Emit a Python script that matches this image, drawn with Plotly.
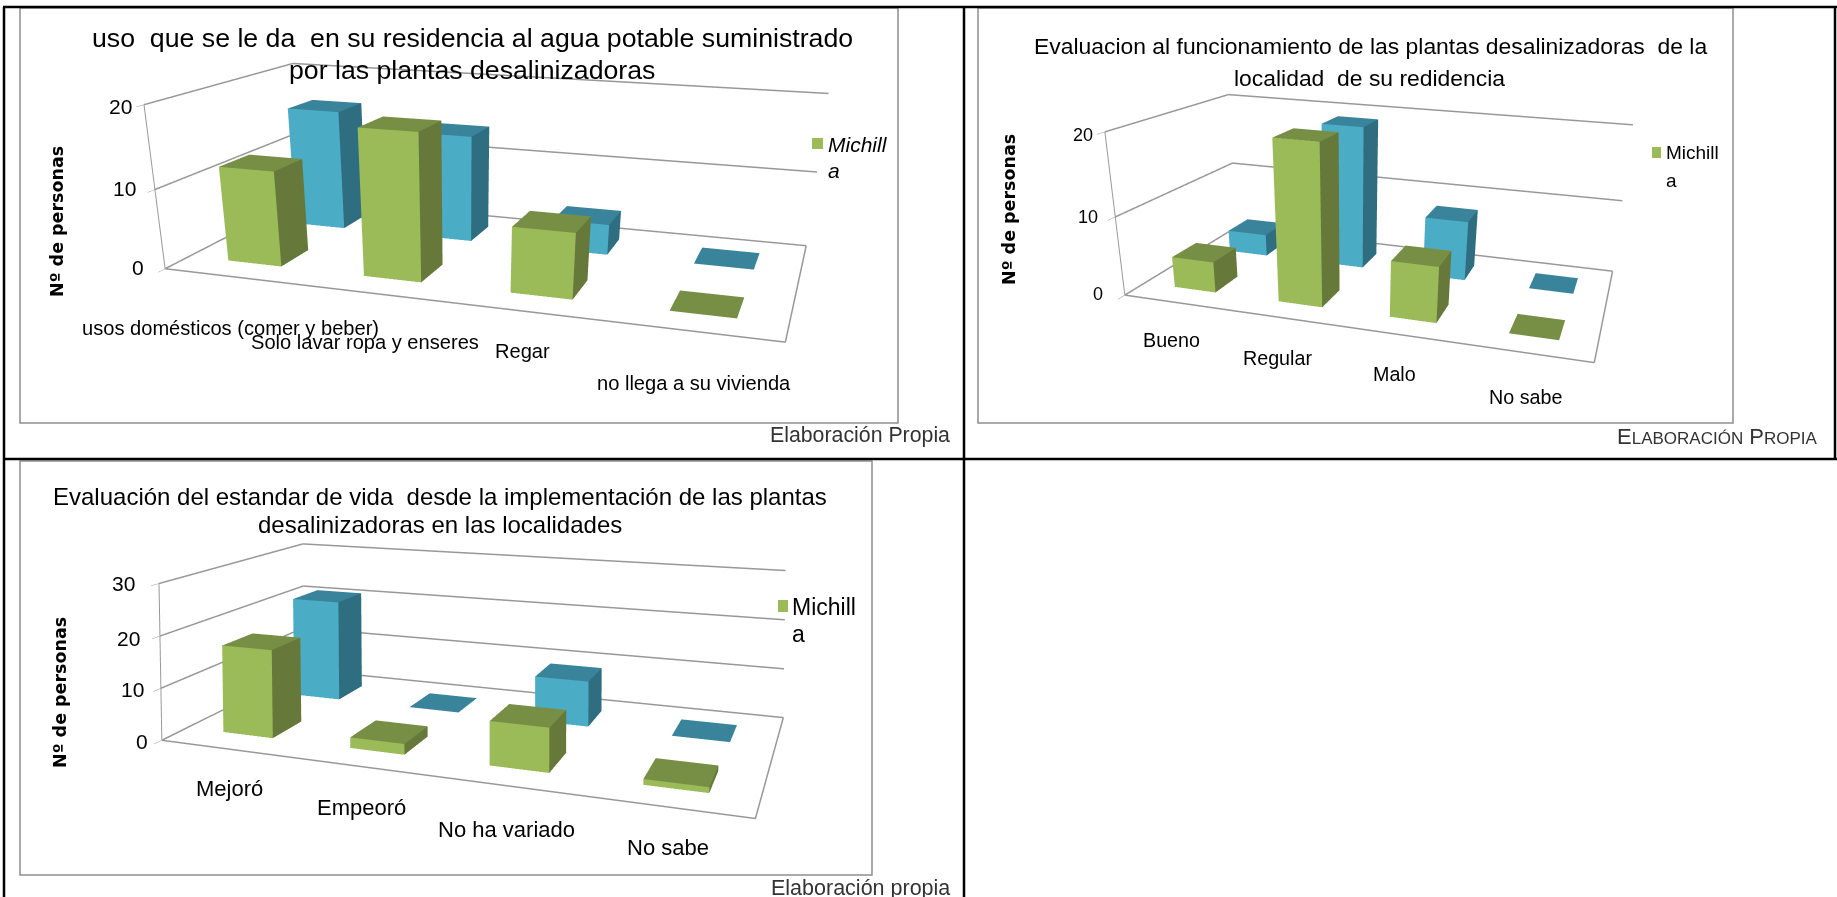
import plotly.graph_objects as go

PAGE_W, PAGE_H = 1837, 897

# Survey counts, one list per chart; the first series is drawn in front.
uso_categorias = ["usos domésticos (comer y beber)", "Solo lavar ropa y enseres", "Regar", "no llega a su vivienda"]
uso_michilla = [12, 18, 8, 0]
uso_segunda = [16, 14, 4, 0]
uso_ticks = [0, 10, 20]

func_categorias = ["Bueno", "Regular", "Malo", "No sabe"]
func_michilla = [4, 20, 7, 0]
func_segunda = [3, 19, 8, 0]
func_ticks = [0, 10, 20]

vida_categorias = ["Mejoró", "Empeoró", "No ha variado", "No sabe"]
vida_michilla = [17, 2, 8, 1]
vida_segunda = [21, 0, 9, 0]
vida_ticks = [0, 10, 20, 30]

GREEN = ("#9BBB59", "#66793B", "#778F45")
BLUE = ("#4BACC6", "#2F6E81", "#39849B")
GRID = "#989898"
BAR_W = 0.4
SANS = "Liberation Sans"


def px(x):
    return x / PAGE_W


def py(y):
    return 1 - y / PAGE_H


def bar_mesh(values, series_index, palette, scene):
    """One Mesh3d holding a box per value, with flat-coloured faces."""
    xs, ys, zs, ii, jj, kk, colors = [], [], [], [], [], [], []
    front, side, top = palette
    for cat, value in enumerate(values):
        x0, x1 = cat + (1 - BAR_W) / 2, cat + (1 + BAR_W) / 2
        y0, y1 = series_index + (1 - BAR_W) / 2, series_index + (1 + BAR_W) / 2
        n = len(xs)
        xs += [x0, x1, x1, x0, x0, x1, x1, x0]
        ys += [y0, y0, y1, y1, y0, y0, y1, y1]
        zs += [0, 0, 0, 0, value, value, value, value]
        faces = [
            ((0, 1, 5), front), ((0, 5, 4), front),
            ((1, 2, 6), side), ((1, 6, 5), side),
            ((4, 5, 6), top), ((4, 6, 7), top),
        ]
        for (a, b, c), col in faces:
            ii.append(n + a)
            jj.append(n + b)
            kk.append(n + c)
            colors.append(col)
    return go.Mesh3d(
        x=xs, y=ys, z=zs, i=ii, j=jj, k=kk, facecolor=colors, flatshading=True,
        lighting=dict(ambient=1, diffuse=0, specular=0, fresnel=0, roughness=1),
        hoverinfo="skip", showscale=False, scene=scene,
    )


def wire(xs, ys, zs, scene):
    return go.Scatter3d(
        x=xs, y=ys, z=zs, mode="lines", line=dict(color=GRID, width=3),
        hoverinfo="skip", showlegend=False, scene=scene,
    )


def add_frame_lines(ticks, scene):
    """Gridlines on the side and back walls, then the floor's front and right borders."""
    for t in ticks:
        fig.add_trace(wire([0, 0, 4], [0, 2, 2], [t, t, t], scene))
    fig.add_trace(wire([0, 4, 4], [0, 0, 2], [0, 0, 0], scene))


def scene_layout(dom_x, dom_y, eye, center, up_x, aspect_y, aspect_z, ticks):
    hidden = dict(showgrid=False, showticklabels=False, showline=False, ticks="", title="",
                  zeroline=False, showspikes=False, showbackground=False)
    return dict(
        domain=dict(x=dom_x, y=dom_y), bgcolor="rgba(0,0,0,0)", dragmode="orbit",
        aspectmode="manual", aspectratio=dict(x=2, y=aspect_y, z=aspect_z),
        camera=dict(
            eye=dict(x=eye[0], y=eye[1], z=eye[2]),
            center=dict(x=center[0], y=center[1], z=center[2]),
            up=dict(x=up_x, y=0, z=1),
        ),
        xaxis=dict(range=[0, 4], **hidden),
        yaxis=dict(range=[0, 2], **hidden),
        zaxis=dict(
            range=[ticks[0], ticks[-1]], tickvals=ticks, showticklabels=False, ticks="outside",
            ticklen=6, tickcolor=GRID, showgrid=False, showline=True,
            linecolor=GRID, linewidth=2, title="", zeroline=False, showspikes=False, showbackground=False,
        ),
    )


fig = go.Figure()

charts = [
    ("scene", uso_michilla, uso_segunda, uso_ticks),
    ("scene2", func_michilla, func_segunda, func_ticks),
    ("scene3", vida_michilla, vida_segunda, vida_ticks),
]
for scene, front_series, back_series, ticks in charts:
    fig.add_trace(bar_mesh(back_series, 1, BLUE, scene))
    fig.add_trace(bar_mesh(front_series, 0, GREEN, scene))
    add_frame_lines(ticks, scene)

fig.update_layout(
    width=PAGE_W, height=PAGE_H, margin=dict(l=0, r=0, t=0, b=0),
    paper_bgcolor="white", showlegend=False,
    scene=scene_layout([0, 960 / PAGE_W], [0, 1], (1.070, -3.468, 0.842), (0.223, -0.870, -0.549),
                       -0.008, 1.001, 0.525, uso_ticks),
    scene2=scene_layout([963 / PAGE_W, 1], [1 - 700 / PAGE_H, 1], (1.075, -3.474, 1.023), (0.252, -0.564, -0.400),
                        -0.026, 1.067, 0.696, func_ticks),
    scene3=scene_layout([0, 960 / PAGE_W], [0, 1], (1.295, -3.580, 0.946), (-0.273, 0.725, 0.685),
                        0.001, 0.995, 0.547, vida_ticks),
)

shapes = []


def rule(x0, y0, x1, y1, color="black", width=2.5):
    shapes.append(dict(type="line", xref="paper", yref="paper", x0=px(x0), y0=py(y0), x1=px(x1), y1=py(y1),
                       line=dict(color=color, width=width), layer="below"))


def frame(x0, y0, x1, y1):
    shapes.append(dict(type="rect", xref="paper", yref="paper", x0=px(x0), y0=py(y0), x1=px(x1), y1=py(y1),
                       line=dict(color="#8f8f8f", width=1.5), fillcolor="white", layer="below"))


frame(20, 8, 898, 423)
frame(978, 8, 1733, 423)
frame(20, 461, 872, 875)
rule(3, 7, 1837, 7)
rule(3, 459, 1837, 459)
rule(4, 7, 4, 897)
rule(964, 7, 964, 897)
rule(1835, 7, 1835, 459)


def label(x, y, text, size, anchor="left", family=SANS, color="black", angle=0, italic=False):
    fig.add_annotation(
        x=px(x), y=py(y), xref="paper", yref="paper", text=f"<i>{text}</i>" if italic else text, showarrow=False,
        xanchor=anchor, yanchor="middle", textangle=angle, font=dict(size=size, family=family, color=color),
    )


def legend_key(x0, y0, x1, y1):
    shapes.append(dict(type="rect", xref="paper", yref="paper", x0=px(x0), y0=py(y0), x1=px(x1), y1=py(y1),
                       line=dict(width=0), fillcolor=GREEN[0], layer="above"))


# Chart 1
label(473, 38, "uso \u00a0que se le da \u00a0en su residencia al agua potable suministrado", 26.7, "center")
label(472, 70, "por las plantas desalinizadoras", 26.7, "center")
for tick, (x, y) in zip(uso_ticks, [(146, 267), (138, 188), (134, 107)]):
    label(x, y, str(tick), 21, "right")
label(57, 222, "<b>Nº de personas</b>", 17.5, "center", "DejaVu Sans", angle=-90)
label(80, 328, uso_categorias[0], 20.1)
label(249, 342, uso_categorias[1], 20.1)
label(493, 351, uso_categorias[2], 20.1)
label(595, 383, uso_categorias[3], 20.1)
legend_key(812, 138, 823, 149)
label(826, 144, "Michill", 21, italic=True)
label(826, 170, "a", 21, italic=True)
label(952, 435, "Elaboración Propia", 21.3, "right", color="#333333")

# Chart 2
label(1370, 46, "Evaluacion al funcionamiento de las plantas desalinizadoras \u00a0de la", 22.9, "center")
label(1369, 78, "localidad \u00a0de su redidencia", 22.9, "center")
for tick, (x, y) in zip(func_ticks, [(1105, 294), (1100, 217), (1095, 135)]):
    label(x, y, str(tick), 18, "right")
label(1009, 210, "<b>Nº de personas</b>", 17.5, "center", "DejaVu Sans", angle=-90)
label(1141, 340, func_categorias[0], 19.7)
label(1241, 358, func_categorias[1], 19.7)
label(1371, 374, func_categorias[2], 19.7)
label(1487, 397, func_categorias[3], 19.7)
legend_key(1652, 147, 1661, 158)
label(1664, 152, "Michill", 19)
label(1664, 181, "a", 19)
label(1820, 436, 'E<span style="font-size:17px">LABORACIÓN</span> P<span style="font-size:17px">ROPIA</span>',
      22, "right", color="#333333")

# Chart 3
label(440, 496, "Evaluación del estandar de vida \u00a0desde la implementación de las plantas", 24, "center")
label(440, 524, "desalinizadoras en las localidades", 24, "center")
for tick, (x, y) in zip(vida_ticks, [(150, 741), (146, 689), (142, 638), (137, 583)]):
    label(x, y, str(tick), 21, "right")
label(60, 693, "<b>Nº de personas</b>", 17.5, "center", "DejaVu Sans", angle=-90)
label(194, 788, vida_categorias[0], 22)
label(315, 807, vida_categorias[1], 22)
label(436, 829, vida_categorias[2], 22)
label(625, 847, vida_categorias[3], 22)
legend_key(778, 600, 788, 612)
label(790, 607, "Michill", 23)
label(790, 634, "a", 23)
label(952, 888, "Elaboración propia", 21.5, "right", color="#333333")

fig.update_layout(shapes=shapes)
fig.write_html("out.html")
